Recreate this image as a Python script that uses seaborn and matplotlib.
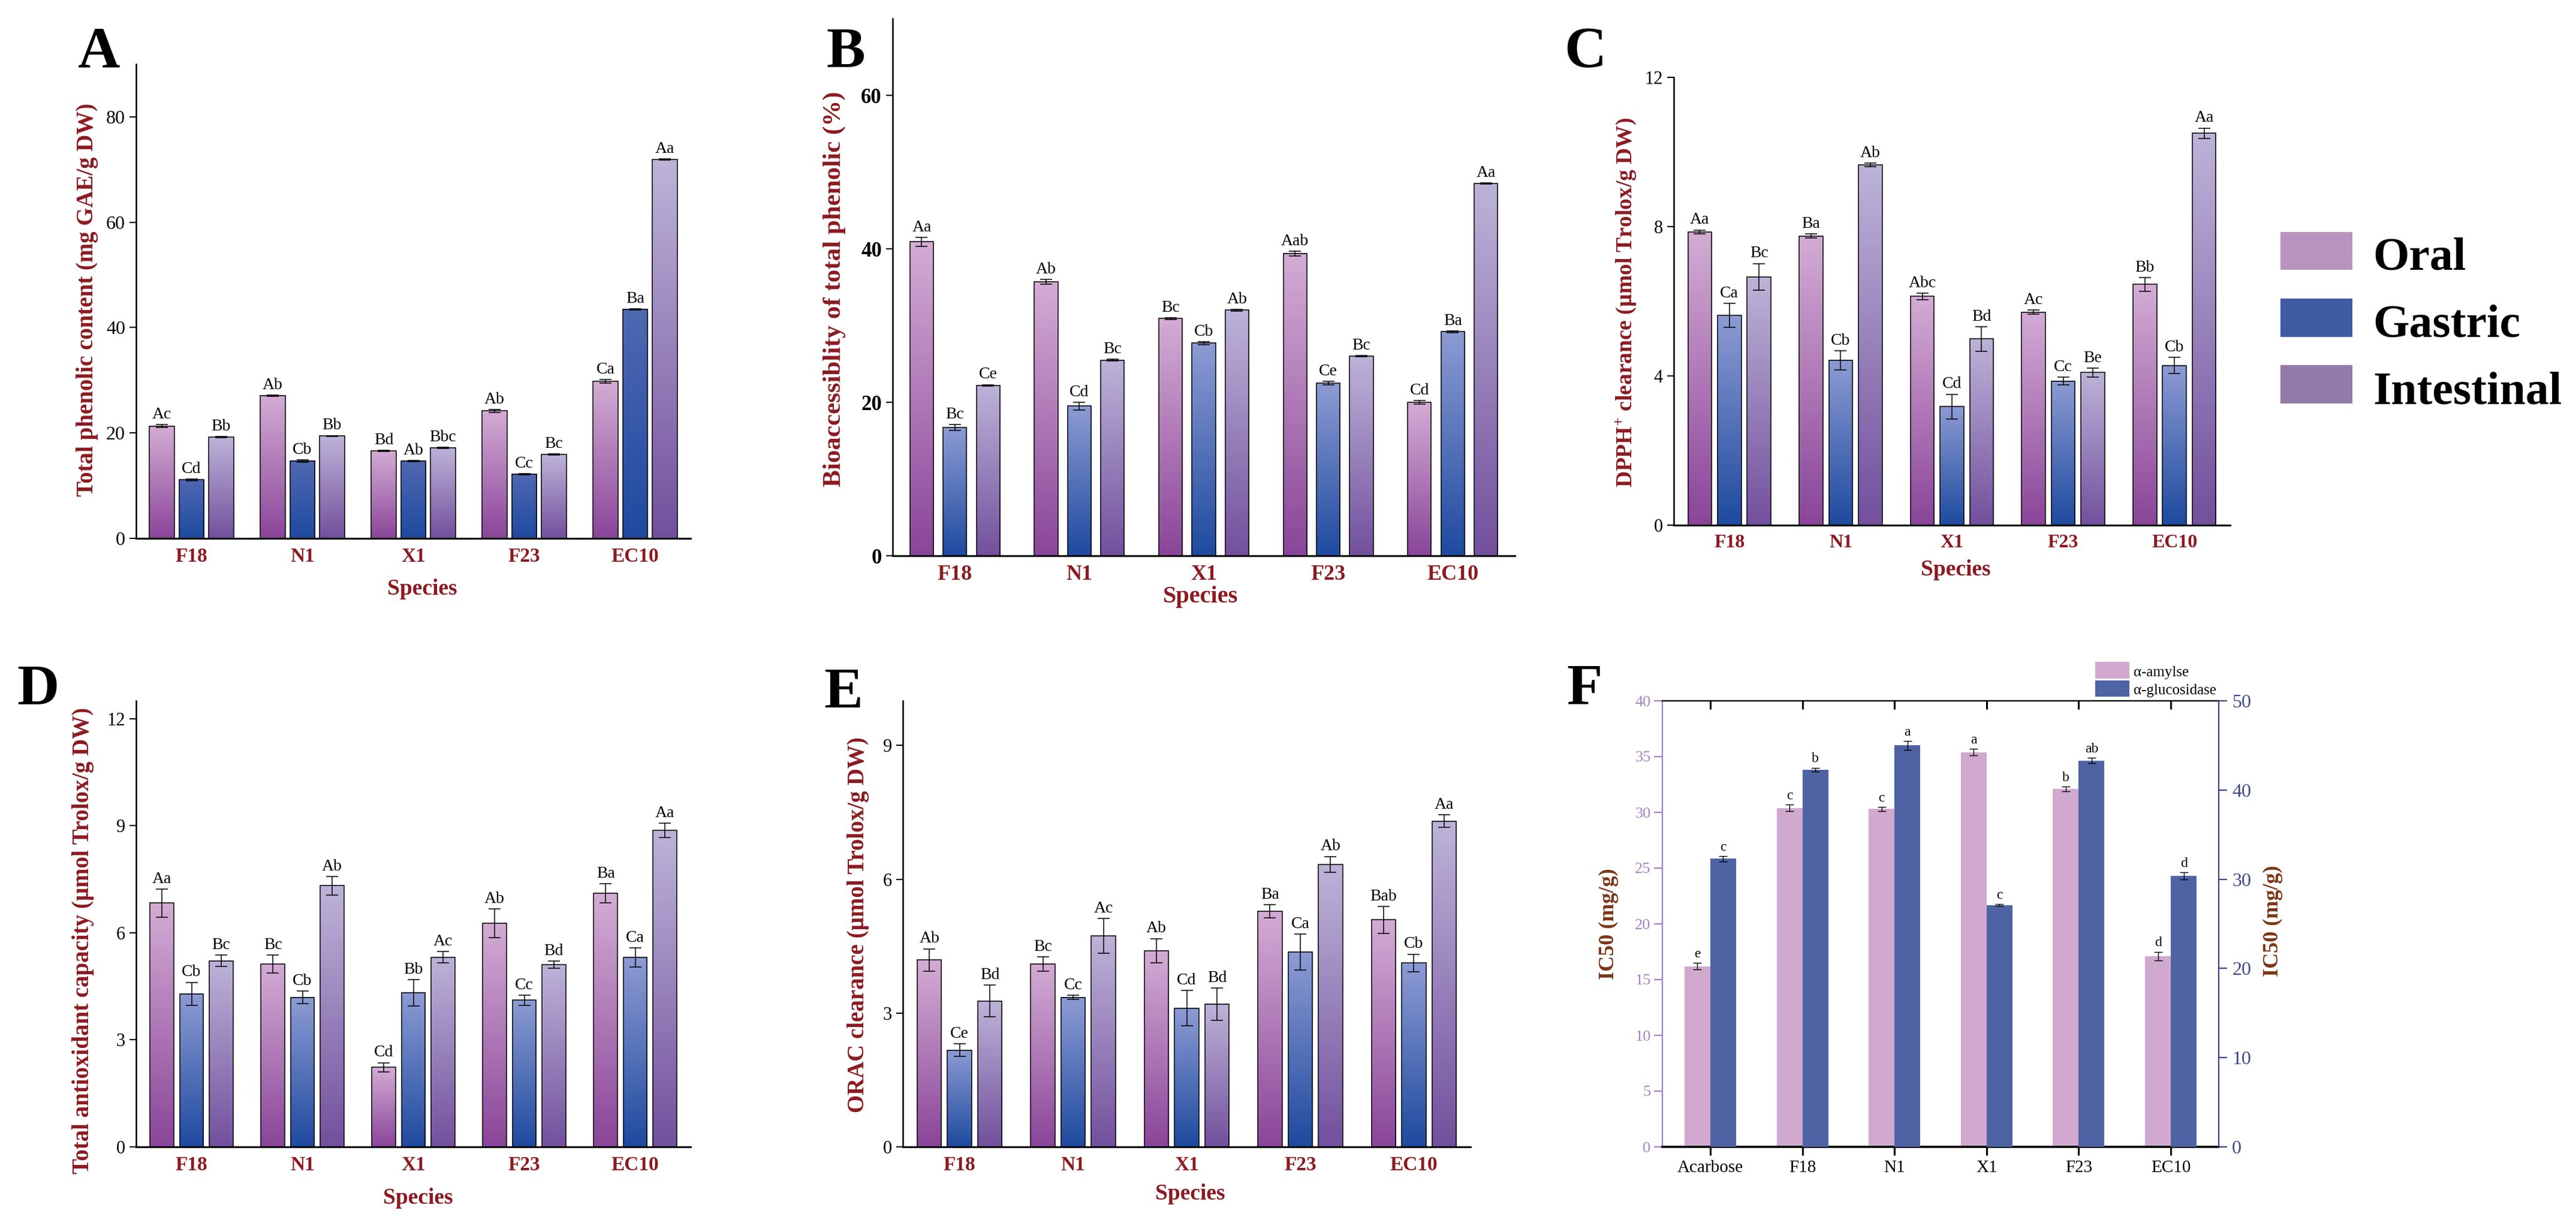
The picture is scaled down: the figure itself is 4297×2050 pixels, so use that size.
import numpy as np
import pandas as pd
import matplotlib
matplotlib.use("Agg")
import matplotlib.pyplot as plt
import seaborn as sns
from matplotlib.colors import LinearSegmentedColormap
from matplotlib.patches import Rectangle

# ------------------------------------------------------------------ data
species = ["F18", "N1", "X1", "F23", "EC10"]
stages = ["Oral", "Gastric", "Intestinal"]

# A  Total phenolic content
tpc_oral = [21.3, 27.1, 16.6, 24.2, 29.8]
tpc_gastric = [11.1, 14.7, 14.7, 12.2, 43.5]
tpc_intestinal = [19.2, 19.4, 17.2, 15.9, 71.9]
tpc_err_oral = [0.3, 0.1, 0.1, 0.3, 0.3]
tpc_err_gastric = [0.2, 0.2, 0.1, 0.1, 0.1]
tpc_err_intestinal = [0.1, 0.1, 0.1, 0.1, 0.1]
tpc_lab_oral = ["Ac", "Ab", "Bd", "Ab", "Ca"]
tpc_lab_gastric = ["Cd", "Cb", "Ab", "Cc", "Ba"]
tpc_lab_intestinal = ["Bb", "Bb", "Bbc", "Bc", "Aa"]

# B  Bioaccessibility
bio_oral = [40.9, 35.7, 30.9, 39.4, 20.0]
bio_gastric = [16.7, 19.5, 27.7, 22.5, 29.2]
bio_intestinal = [22.2, 25.5, 32.0, 26.0, 48.5]
bio_err_oral = [0.6, 0.3, 0.1, 0.3, 0.2]
bio_err_gastric = [0.4, 0.5, 0.2, 0.2, 0.1]
bio_err_intestinal = [0.1, 0.1, 0.1, 0.1, 0.1]
bio_lab_oral = ["Aa", "Ab", "Bc", "Aab", "Cd"]
bio_lab_gastric = ["Bc", "Cd", "Cb", "Ce", "Ba"]
bio_lab_intestinal = ["Ce", "Bc", "Ab", "Bc", "Aa"]

# C  DPPH+ clearance
dpph_oral = [7.86, 7.75, 6.13, 5.71, 6.45]
dpph_gastric = [5.62, 4.42, 3.18, 3.86, 4.28]
dpph_intestinal = [6.65, 9.65, 4.99, 4.09, 10.50]
dpph_err_oral = [0.05, 0.05, 0.09, 0.05, 0.18]
dpph_err_gastric = [0.32, 0.26, 0.33, 0.10, 0.22]
dpph_err_intestinal = [0.36, 0.05, 0.33, 0.12, 0.14]
dpph_lab_oral = ["Aa", "Ba", "Abc", "Ac", "Bb"]
dpph_lab_gastric = ["Ca", "Cb", "Cd", "Cc", "Cb"]
dpph_lab_intestinal = ["Bc", "Ab", "Bd", "Be", "Aa"]

# D  Total antioxidant capacity
tac_oral = [6.83, 5.12, 2.23, 6.27, 7.11]
tac_gastric = [4.29, 4.19, 4.32, 4.11, 5.31]
tac_intestinal = [5.21, 7.32, 5.31, 5.10, 8.87]
tac_err_oral = [0.39, 0.25, 0.13, 0.40, 0.27]
tac_err_gastric = [0.32, 0.17, 0.37, 0.14, 0.27]
tac_err_intestinal = [0.16, 0.26, 0.16, 0.10, 0.20]
tac_lab_oral = ["Aa", "Bc", "Cd", "Ab", "Ba"]
tac_lab_gastric = ["Cb", "Cb", "Bb", "Cc", "Ca"]
tac_lab_intestinal = ["Bc", "Ab", "Ac", "Bd", "Aa"]

# E  ORAC clearance
orac_oral = [4.19, 4.10, 4.40, 5.28, 5.09]
orac_gastric = [2.17, 3.35, 3.11, 4.37, 4.12]
orac_intestinal = [3.27, 4.73, 3.20, 6.33, 7.30]
orac_err_oral = [0.25, 0.16, 0.27, 0.15, 0.30]
orac_err_gastric = [0.14, 0.05, 0.40, 0.40, 0.20]
orac_err_intestinal = [0.36, 0.39, 0.36, 0.18, 0.14]
orac_lab_oral = ["Ab", "Bc", "Ab", "Ba", "Bab"]
orac_lab_gastric = ["Ce", "Cc", "Cd", "Ca", "Cb"]
orac_lab_intestinal = ["Bd", "Ac", "Bd", "Ab", "Aa"]

# F  IC50
samples = ["Acarbose", "F18", "N1", "X1", "F23", "EC10"]
enzymes = ["α-amylse", "α-glucosidase"]
amylase = [16.2, 30.4, 30.3, 35.4, 32.1, 17.1]
glucosidase = [32.3, 42.3, 45.0, 27.1, 43.3, 30.4]
amylase_err = [0.3, 0.3, 0.2, 0.3, 0.2, 0.4]
glucosidase_err = [0.3, 0.2, 0.5, 0.1, 0.3, 0.4]
amylase_lab = ["e", "c", "c", "a", "b", "d"]
glucosidase_lab = ["c", "b", "a", "c", "ab", "d"]

# ------------------------------------------------------------------ style
sns.set_style("ticks")
plt.rcParams.update({
    "font.family": ["Liberation Serif", "DejaVu Serif"],
    "mathtext.fontset": "custom",
    "mathtext.rm": "Liberation Serif",
    "mathtext.bf": "Liberation Serif:bold",
    "mathtext.it": "Liberation Serif:italic",
    "axes.linewidth": 1.8,
    "text.color": "black",
    "axes.labelcolor": "black",
    "xtick.color": "black",
    "ytick.color": "black",
    "axes.edgecolor": "black",
})

W, H, DPI = 4297, 2050, 100
fig = plt.figure(figsize=(W / DPI, H / DPI), dpi=DPI)
fig.patch.set_facecolor("white")

DARKRED = "#8b1a20"
BROWN = "#7b3516"


def px_ax(x0, y0, x1, y1):
    return fig.add_axes([x0 / W, 1 - y1 / H, (x1 - x0) / W, (y1 - y0) / H])


def ftext(x, y, s, **kw):
    return fig.text(x / W, 1 - y / H, s, **kw)


GRAD = {"Oral": ("#8a4599", "#d3acd4"),
        "Gastric": ("#1e4a9f", "#8d9bd3"),
        "Intestinal": ("#72509d", "#bdb3d8")}
FLAT = {"Oral": "#b993bf", "Gastric": "#3f5ba2", "Intestinal": "#927aab"}


def stage_panel(ax, vals, errs, labs, ylim, yticks, gap, tick_fs, tick_bold,
                xtick_fs, ann_fs, gastric_top=None):
    rows = []
    for st in stages:
        for i, sp in enumerate(species):
            rows.append((sp, st, vals[st][i]))
    df = pd.DataFrame(rows, columns=["Species", "Stage", "Value"])
    sns.barplot(data=df, x="Species", y="Value", hue="Stage", order=species,
                hue_order=stages, palette=FLAT, width=0.8, gap=gap, dodge=True,
                errorbar=None, saturation=1, legend=False, ax=ax)
    grad = np.linspace(0, 1, 256).reshape(-1, 1)
    for k, st in enumerate(stages):
        bot, top = GRAD[st]
        if st == "Gastric" and gastric_top is not None:
            top = gastric_top
        cmap = LinearSegmentedColormap.from_list("g" + st, [bot, top])
        for i, p in enumerate(ax.containers[k].patches):
            x0, w, h = p.get_x(), p.get_width(), p.get_height()
            ax.imshow(grad, extent=[x0, x0 + w, 0, h], origin="lower",
                      cmap=cmap, aspect="auto", zorder=1.5,
                      interpolation="bilinear")
            p.set_facecolor("none")
            p.set_edgecolor("black")
            p.set_linewidth(1.1)
            p.set_zorder(2)
            xc = x0 + w / 2
            e = errs[st][i]
            ax.errorbar(xc, h, yerr=e, fmt="none", ecolor="black",
                        elinewidth=1.1, capsize=7, capthick=1.1, zorder=3)
            ax.annotate(labs[st][i], (xc, h + e), xytext=(0, 3),
                        textcoords="offset points", ha="center",
                        va="bottom", fontsize=ann_fs)
    ax.set_xlim(-0.5, 4.5)
    ax.set_ylim(*ylim)
    ax.set_yticks(yticks)
    ax.set_xlabel("")
    ax.set_ylabel("")
    sns.despine(ax=ax)
    ax.spines["bottom"].set_linewidth(2.2)
    ax.tick_params(axis="y", direction="out", length=8, width=1.5,
                   labelsize=tick_fs, pad=5)
    ax.tick_params(axis="x", length=0, pad=11, labelsize=xtick_fs)
    for t in ax.get_xticklabels():
        t.set_fontweight("bold")
        t.set_color(DARKRED)
    if tick_bold:
        for t in ax.get_yticklabels():
            t.set_fontweight("bold")


# ---------------- A
axA = px_ax(227, 107, 1152, 898)
stage_panel(axA,
            {"Oral": tpc_oral, "Gastric": tpc_gastric, "Intestinal": tpc_intestinal},
            {"Oral": tpc_err_oral, "Gastric": tpc_err_gastric, "Intestinal": tpc_err_intestinal},
            {"Oral": tpc_lab_oral, "Gastric": tpc_lab_gastric, "Intestinal": tpc_lab_intestinal},
            (0, 90), [0, 20, 40, 60, 80], 0.16, 23, False, 24, 20,
            gastric_top="#5068b2")

# ---------------- B
axB = px_ax(1489, 31, 2527, 927)
stage_panel(axB,
            {"Oral": bio_oral, "Gastric": bio_gastric, "Intestinal": bio_intestinal},
            {"Oral": bio_err_oral, "Gastric": bio_err_gastric, "Intestinal": bio_err_intestinal},
            {"Oral": bio_lab_oral, "Gastric": bio_lab_gastric, "Intestinal": bio_lab_intestinal},
            (0, 70), [0, 20, 40, 60], 0.29, 25, True, 26, 20)

# ---------------- C
axC = px_ax(2792, 129, 3720, 876)
stage_panel(axC,
            {"Oral": dpph_oral, "Gastric": dpph_gastric, "Intestinal": dpph_intestinal},
            {"Oral": dpph_err_oral, "Gastric": dpph_err_gastric, "Intestinal": dpph_err_intestinal},
            {"Oral": dpph_lab_oral, "Gastric": dpph_lab_gastric, "Intestinal": dpph_lab_intestinal},
            (0, 12), [0, 4, 8, 12], 0.2, 22, False, 23, 20)

# ---------------- D
axD = px_ax(227, 1169, 1152, 1913)
stage_panel(axD,
            {"Oral": tac_oral, "Gastric": tac_gastric, "Intestinal": tac_intestinal},
            {"Oral": tac_err_oral, "Gastric": tac_err_gastric, "Intestinal": tac_err_intestinal},
            {"Oral": tac_lab_oral, "Gastric": tac_lab_gastric, "Intestinal": tac_lab_intestinal},
            (0, 12.5), [0, 3, 6, 9, 12], 0.19, 22, False, 24, 20)

# ---------------- E
axE = px_ax(1506, 1169, 2453, 1913)
stage_panel(axE,
            {"Oral": orac_oral, "Gastric": orac_gastric, "Intestinal": orac_intestinal},
            {"Oral": orac_err_oral, "Gastric": orac_err_gastric, "Intestinal": orac_err_intestinal},
            {"Oral": orac_lab_oral, "Gastric": orac_lab_gastric, "Intestinal": orac_lab_intestinal},
            (0, 10), [0, 3, 6, 9], 0.2, 22, False, 24, 20)

# ---------------- F
F_COLORS = {enzymes[0]: "#d1a9cf", enzymes[1]: "#4f63a4"}
LEFT_C = "#a47cc4"
RIGHT_C = "#36428c"
n = len(samples)
dfF_amy = pd.DataFrame({"Sample": samples * 2,
                        "Enzyme": [enzymes[0]] * n + [enzymes[1]] * n,
                        "IC50": amylase + [np.nan] * n})
dfF_glu = pd.DataFrame({"Sample": samples * 2,
                        "Enzyme": [enzymes[0]] * n + [enzymes[1]] * n,
                        "IC50": [np.nan] * n + glucosidase})
axF = px_ax(2773, 1169, 3701, 1913)
sns.barplot(data=dfF_amy, x="Sample", y="IC50", hue="Enzyme", order=samples,
            hue_order=enzymes, palette=F_COLORS, width=0.56, gap=0, dodge=True,
            errorbar=None, saturation=1, legend=False, linewidth=0, ax=axF)
axF2 = axF.twinx()
sns.barplot(data=dfF_glu, x="Sample", y="IC50", hue="Enzyme", order=samples,
            hue_order=enzymes, palette=F_COLORS, width=0.56, gap=0, dodge=True,
            errorbar=None, saturation=1, legend=False, linewidth=0, ax=axF2)


def annotate_F(ax, errs, labs):
    patches = [p for c in ax.containers for p in c.patches
               if np.isfinite(p.get_height()) and p.get_height() > 0]
    for p, e, lab in zip(patches, errs, labs):
        xc = p.get_x() + p.get_width() / 2
        h = p.get_height()
        ax.errorbar(xc, h, yerr=e, fmt="none", ecolor="black",
                    elinewidth=1.0, capsize=5, capthick=1.0, zorder=3)
        ax.annotate(lab, (xc, h + e), xytext=(0, 3), textcoords="offset points",
                    ha="center", va="bottom", fontsize=17)


annotate_F(axF, amylase_err, amylase_lab)
annotate_F(axF2, glucosidase_err, glucosidase_lab)

axF.set_xlim(-0.52, 5.52)
axF.set_ylim(0, 40)
axF.set_yticks(range(0, 41, 5))
axF2.set_ylim(0, 50)
axF2.set_yticks(range(0, 51, 10))
for a in (axF, axF2):
    a.set_xlabel("")
    a.set_ylabel("")
axF.spines["right"].set_visible(False)
axF2.spines["left"].set_visible(False)
axF2.spines["top"].set_visible(False)
axF2.spines["bottom"].set_visible(False)
axF.spines["left"].set_color(LEFT_C)
axF.spines["left"].set_linewidth(1.6)
axF.spines["top"].set_linewidth(1.6)
axF.spines["bottom"].set_linewidth(2.6)
axF2.spines["right"].set_color(RIGHT_C)
axF2.spines["right"].set_linewidth(1.6)
axF.tick_params(axis="y", direction="out", length=10, width=1.5,
                color=LEFT_C, labelcolor="#a383c6", labelsize=19, pad=4)
axF2.tick_params(axis="y", direction="out", length=10, width=1.5,
                 color=RIGHT_C, labelcolor="#3d4a8c", labelsize=23, pad=6)
axF.tick_params(axis="x", direction="out", length=10, width=2.2,
                labelsize=21, pad=6)
secF = axF.secondary_xaxis("top")
secF.set_xticks(range(n))
secF.set_xticklabels([])
secF.tick_params(axis="x", direction="in", length=10, width=2.2)
secF.spines["top"].set_linewidth(1.6)

# F legend
for k, (y0, y1) in enumerate([(1104, 1132), (1135, 1162)]):
    fig.patches.append(Rectangle((3495 / W, 1 - y1 / H), 57 / W, (y1 - y0) / H,
                                 transform=fig.transFigure,
                                 facecolor=F_COLORS[enzymes[k]], edgecolor="none"))
    ftext(3559, y1 - 4, enzymes[k], fontsize=18, ha="left", va="baseline")

# ---------------- axis titles
lab_kw = dict(fontweight="bold", color=DARKRED, rotation=90, ha="center", va="center")
ftext(146, 500, "Total phenolic content (mg GAE/g DW)", fontsize=28, **lab_kw)
ftext(1392, 482, "Bioaccessiblity of total phenolic (%)", fontsize=31, **lab_kw)
ftext(2712, 504, r"DPPH$^{\mathbf{+}}$ clearance (µmol Trolox/g DW)", fontsize=27, **lab_kw)
ftext(139, 1569, "Total antioxidant capacity (µmol Trolox/g DW)", fontsize=28, **lab_kw)
ftext(1432, 1543, "ORAC clearance (µmol Trolox/g DW)", fontsize=28, **lab_kw)
ftext(2683, 1541, "IC50 (mg/g)", fontsize=26, fontweight="bold", color=BROWN,
      rotation=90, ha="center", va="center")
ftext(3791, 1536, "IC50 (mg/g)", fontsize=26, fontweight="bold", color=BROWN,
      rotation=90, ha="center", va="center")

sp_kw = dict(fontweight="bold", color=DARKRED, ha="center", va="baseline")
ftext(704, 992, "Species", fontsize=27, **sp_kw)
ftext(2003, 1005, "Species", fontsize=29, **sp_kw)
ftext(3262, 960, "Species", fontsize=27, **sp_kw)
ftext(697, 2008, "Species", fontsize=27, **sp_kw)
ftext(1985, 2001, "Species", fontsize=27, **sp_kw)

# ---------------- panel letters
for letter, (x, y) in zip("ABCDEF", [(130, 112), (1378, 112), (2609, 112),
                                      (28, 1175), (1374, 1181), (2613, 1175)]):
    ftext(x, y, letter, fontsize=70, fontweight="bold", ha="left", va="baseline")

# ---------------- stage legend
for k, st in enumerate(stages):
    y0, y1 = [(387, 450), (498, 562), (609, 673)][k]
    fig.patches.append(Rectangle((3804 / W, 1 - y1 / H), 120 / W, (y1 - y0) / H,
                                 transform=fig.transFigure,
                                 facecolor=FLAT[st], edgecolor="none"))
    ftext(3958, y1, st, fontsize=56, fontweight="bold", ha="left", va="baseline")

fig.savefig("out.png", dpi=DPI, facecolor="white")
